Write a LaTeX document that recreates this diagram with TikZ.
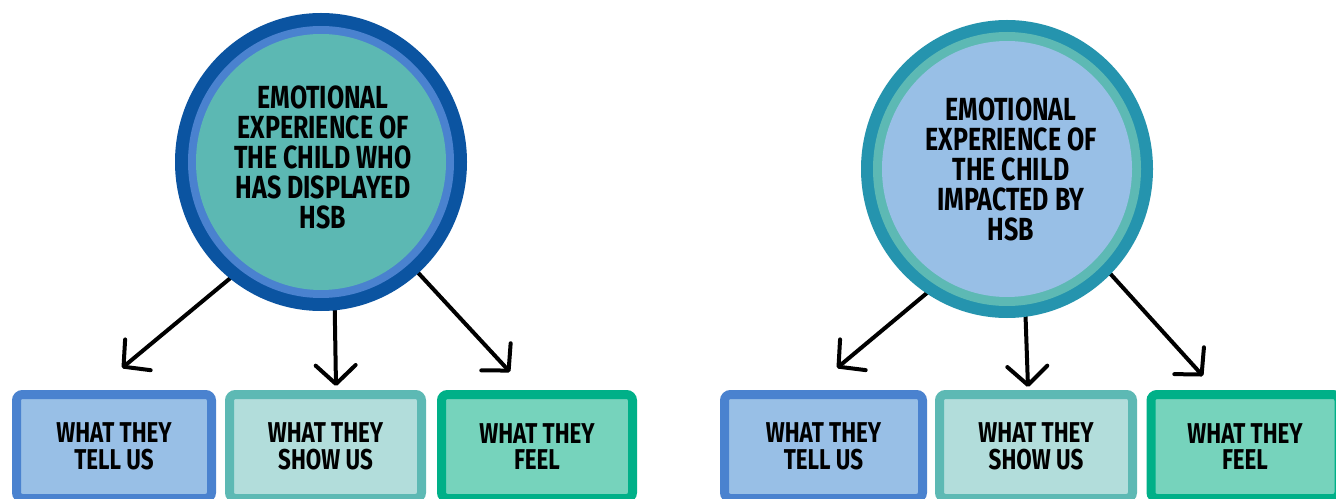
\documentclass[tikz,border=0pt]{standalone}
\usepackage{fontspec}
\setmainfont{Fira Sans}
\newfontfamily\handfont{Fira Sans}[FakeStretch=0.78]
\usetikzlibrary{shapes.geometric,arrows.meta}
\definecolor{Ldark}{HTML}{0B54A1}
\definecolor{Llight}{HTML}{4A82CF}
\definecolor{Lfill}{HTML}{5CB8B3}
\definecolor{Rdark}{HTML}{2594AE}
\definecolor{Rlight}{HTML}{5DB9B4}
\definecolor{Rfill}{HTML}{98BFE6}
\definecolor{blueB}{HTML}{4A82CF}
\definecolor{blueF}{HTML}{98BFE6}
\definecolor{tealB}{HTML}{5DB9B4}
\definecolor{tealF}{HTML}{B2DDDB}
\definecolor{greenB}{HTML}{00B088}
\definecolor{greenF}{HTML}{76D3BC}
\pgfdeclarelayer{bg}
\pgfsetlayers{bg,main}
\begin{document}
\begin{tikzpicture}[x=0.75pt,y=-0.75pt,
  circ/.style={ellipse, inner sep=0pt, minimum width=250*0.75pt, minimum height=256*0.75pt},
  blobL/.style={circ, fill=Lfill,
    preaction={draw=Ldark, line width=42*0.75pt},
    preaction={draw=Llight, line width=16*0.75pt}},
  blobR/.style={circ, fill=Rfill,
    preaction={draw=Rdark, line width=42*0.75pt},
    preaction={draw=Rlight, line width=18*0.75pt}},
  circtext/.style={align=center, inner sep=0pt, font=\handfont\bfseries\fontsize{24}{22.5}\selectfont},
  box/.style={rectangle, rounded corners=4.5pt, line width=9*0.75pt, inner sep=0pt,
    minimum height=104*0.75pt, align=center, font=\handfont\bfseries\fontsize{21.5}{20}\selectfont},
  boxblue/.style={box, draw=blueB, fill=blueF},
  boxteal/.style={box, draw=tealB, fill=tealF},
  boxgreen/.style={box, draw=greenB, fill=greenF},
  arr/.style={line width=4*0.75pt, line cap=round, -{Straight Barb[length=14pt, width=30pt, round]}}
]
\useasboundingbox (0,0) rectangle (1336,499);
\begin{pgfonlayer}{bg}
\fill[white] (0,0) rectangle (1336,499);
\end{pgfonlayer}

% left circle
\node[blobL] (c1) at (321,162) {};
\node[circtext] (c1t) at (323,157) {EMOTIONAL\\EXPERIENCE OF\\THE CHILD WHO\\HAS DISPLAYED\\HSB};
% right circle
\node[blobR] (c2) at (1007,169) {};
\node[circtext] (c2t) at (1011,169) {EMOTIONAL\\EXPERIENCE OF\\THE CHILD\\IMPACTED BY\\HSB};

% boxes
\node[boxblue, minimum width=195*0.75pt] (l1) at (114,446.5) {WHAT THEY\\TELL US};
\node[boxteal, minimum width=192*0.75pt] (l2) at (325.5,446.5) {WHAT THEY\\SHOW US};
\node[boxgreen, minimum width=191*0.75pt] (l3) at (537,446.5) {WHAT THEY\\FEEL};
\node[boxblue, minimum width=198*0.75pt] (r1) at (823.5,446.5) {WHAT THEY\\TELL US};
\node[boxteal, minimum width=193*0.75pt] (r2) at (1036,446.5) {WHAT THEY\\SHOW US};
\node[boxgreen, minimum width=188*0.75pt] (r3) at (1245,446.5) {WHAT THEY\\FEEL};

% arrow tips
\coordinate (t1) at (122,368);
\coordinate (t2) at (336,386);
\coordinate (t3) at (510,372);
\coordinate (t4) at (837,368);
\coordinate (t5) at (1028,387);
\coordinate (t6) at (1203,376);

\begin{pgfonlayer}{bg}
\draw[arr] (c1.234) -- (t1);
\draw[arr] (c1.276) -- (t2);
\draw[arr] (c1.311) -- (t3);
\draw[arr] (c2.240) -- (t4);
\draw[arr] (c2.278) -- (t5);
\draw[arr] (c2.315) -- (t6);
\end{pgfonlayer}
\end{tikzpicture}
\end{document}
